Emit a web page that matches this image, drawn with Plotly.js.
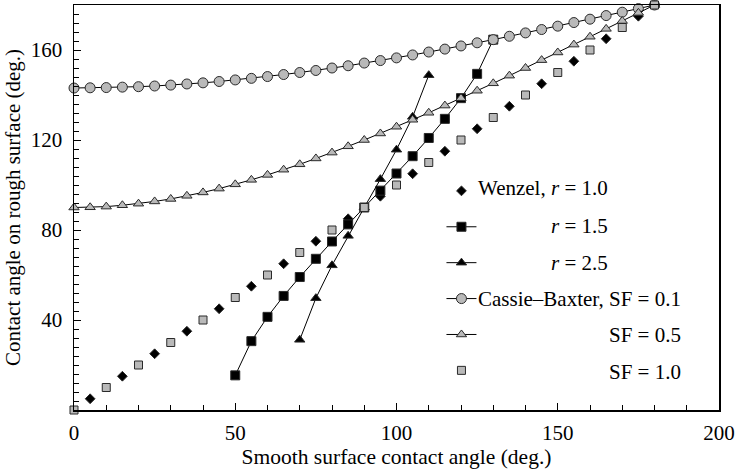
<!DOCTYPE html>
<html>
<head>
<meta charset="utf-8">
<script src="https://cdn.plot.ly/plotly-3.0.1.min.js"></script>
<style>
  html, body { margin: 0; padding: 0; background: #ffffff; }
  #chart { width: 736px; height: 471px; }
</style>
</head>
<body>
<div id="chart"></div>
<script>
// Smooth-surface angle (deg.) and apparent angle on rough surface (deg.)
const wenzelX = [5, 15, 25, 35, 45, 55, 65, 75, 85, 95, 105, 115, 125, 135, 145, 155, 165, 175];
const wenzelY = [5, 15, 25, 35, 45, 55, 65, 75, 85, 95, 105, 115, 125, 135, 145, 155, 165, 175];

const r15X = [50, 55, 60, 65, 70, 75, 80, 85, 90, 95, 100, 105, 110, 115, 120, 125, 130];
const r15Y = [15.4, 30.6, 41.4, 50.7, 59.1, 67.2, 74.9, 82.5, 90, 97.5, 105.1, 112.8, 120.9, 129.4, 138.6, 149.4, 164.6];

const r25X = [70, 75, 80, 85, 90, 95, 100, 105, 110];
const r25Y = [31.2, 49.7, 64.3, 77.4, 90, 102.6, 115.7, 130.3, 148.8];

const cassieX = [0, 5, 10, 15, 20, 25, 30, 35, 40, 45, 50, 55, 60, 65, 70, 75, 80, 85, 90,
                 95, 100, 105, 110, 115, 120, 125, 130, 135, 140, 145, 150, 155, 160, 165, 170, 175, 180];
const sf01Y = [143.1, 143.2, 143.3, 143.5, 143.7, 144.0, 144.4, 144.9, 145.4, 146.0, 146.7, 147.4, 148.2,
               149.1, 150.0, 150.9, 152.0, 153.0, 154.2, 155.3, 156.5, 157.8, 159.1, 160.4, 161.8, 163.2,
               164.6, 166.1, 167.6, 169.1, 170.6, 172.2, 173.7, 175.3, 176.8, 178.4, 180];
const sf05Y = [90, 90.1, 90.4, 91.0, 91.7, 92.7, 93.8, 95.2, 96.7, 98.4, 100.3, 102.3, 104.5,
               106.8, 109.2, 111.8, 114.4, 117.2, 120, 122.9, 125.9, 129.0, 132.1, 135.3, 138.6, 141.9,
               145.2, 148.6, 152.0, 155.5, 158.9, 162.4, 165.9, 169.4, 172.9, 176.5, 180];

const sf10X = [0, 10, 20, 30, 40, 50, 60, 70, 80, 90, 100, 110, 120, 130, 140, 150, 160, 170, 180];
const sf10Y = [0, 10, 20, 30, 40, 50, 60, 70, 80, 90, 100, 110, 120, 130, 140, 150, 160, 170, 180];

const xTicks = [0, 50, 100, 150, 200];
const yTicks = [40, 80, 120, 160];

const legendLabels = [
  'Wenzel, <i>r</i> = 1.0',
  '<i>r</i> = 1.5',
  '<i>r</i> = 2.5',
  'Cassie\u2013Baxter, SF = 0.1',
  'SF = 0.5',
  'SF = 1.0'
];

const FONT = 'Liberation Serif, Times New Roman, serif';
const GREY = '#b9b9b9';
const EDGE = '#2a2a2a';

function series(x, y, mode, symbol, size, fill, group) {
  return {
    x: x, y: y, type: 'scatter', mode: mode,
    name: ' ', legendgroup: group, cliponaxis: false,
    line: { color: '#000000', width: 1 },
    marker: { symbol: symbol, size: size, color: fill, line: { color: EDGE, width: 1 } },
    hoverinfo: 'x+y'
  };
}

const traces = [
  series(wenzelX, wenzelY, 'markers', 'diamond', 7.5, '#000000', 'g1'),
  series(r15X, r15Y, 'lines+markers', 'square', 9, '#000000', 'g2'),
  series(r25X, r25Y, 'lines+markers', 'triangle-up', 9, '#000000', 'g3'),
  series(cassieX, sf01Y, 'lines+markers', 'circle', 10, GREY, 'g4'),
  series(cassieX, sf05Y, 'lines+markers', 'triangle-up', 9, GREY, 'g5'),
  series(sf10X, sf10Y, 'markers', 'square', 8, GREY, 'g6')
];

// Right-aligned legend captions in two columns
const rowsY = [0.548, 0.454, 0.363, 0.274, 0.185, 0.094];
const rightX = [0.8305, 0.8305, 0.8305, 0.9435, 0.9435, 0.9435];
const annotations = legendLabels.map((t, i) => ({
  text: t, xref: 'paper', yref: 'paper', x: rightX[i], y: rowsY[i],
  xanchor: 'right', yanchor: 'middle', showarrow: false,
  font: { family: FONT, size: 21, color: '#000000' }
}));

const layout = {
  width: 736, height: 471,
  margin: { l: 73.5, r: 16.5, t: 5, b: 61 },
  paper_bgcolor: '#ffffff', plot_bgcolor: '#ffffff',
  font: { family: FONT, size: 21, color: '#000000' },
  showlegend: true,
  legend: {
    x: 0.5697, y: 0.586, xanchor: 'left', yanchor: 'top',
    bgcolor: 'rgba(0,0,0,0)', borderwidth: 0,
    tracegroupgap: 9.5, itemsizing: 'trace',
    font: { family: FONT, size: 18 }
  },
  xaxis: {
    range: [0, 200], tickvals: xTicks, ticktext: xTicks.map(String),
    ticks: 'inside', ticklen: 7, tickwidth: 1, tickcolor: '#000000',
    minor: { dtick: 10, ticks: 'inside', ticklen: 5, tickwidth: 1, tickcolor: '#000000', showgrid: false },
    showgrid: false, zeroline: false,
    showline: true, linecolor: '#000000', linewidth: 1.5, mirror: true,
    ticklabelstandoff: 3,
    tickfont: { family: FONT, size: 21, color: '#000000' },
    title: { text: 'Smooth surface contact angle (deg.)', font: { family: FONT, size: 21.5 }, standoff: 0 }
  },
  yaxis: {
    range: [0, 180], tickvals: yTicks, ticktext: yTicks.map(String),
    ticks: 'inside', ticklen: 7, tickwidth: 1, tickcolor: '#000000',
    minor: { dtick: 4, tick0: 0, ticks: 'inside', ticklen: 5, tickwidth: 1, tickcolor: '#000000', showgrid: false },
    showgrid: false, zeroline: false,
    showline: true, linecolor: '#000000', linewidth: 1.5, mirror: true,
    ticklabelstandoff: 6,
    tickfont: { family: FONT, size: 21, color: '#000000' },
    title: { text: 'Contact angle on rough surface (deg.)', font: { family: FONT, size: 21 }, standoff: 4 }
  },
  annotations: annotations
};

Plotly.newPlot('chart', traces, layout, { staticPlot: true, displayModeBar: false });
</script>
</body>
</html>
